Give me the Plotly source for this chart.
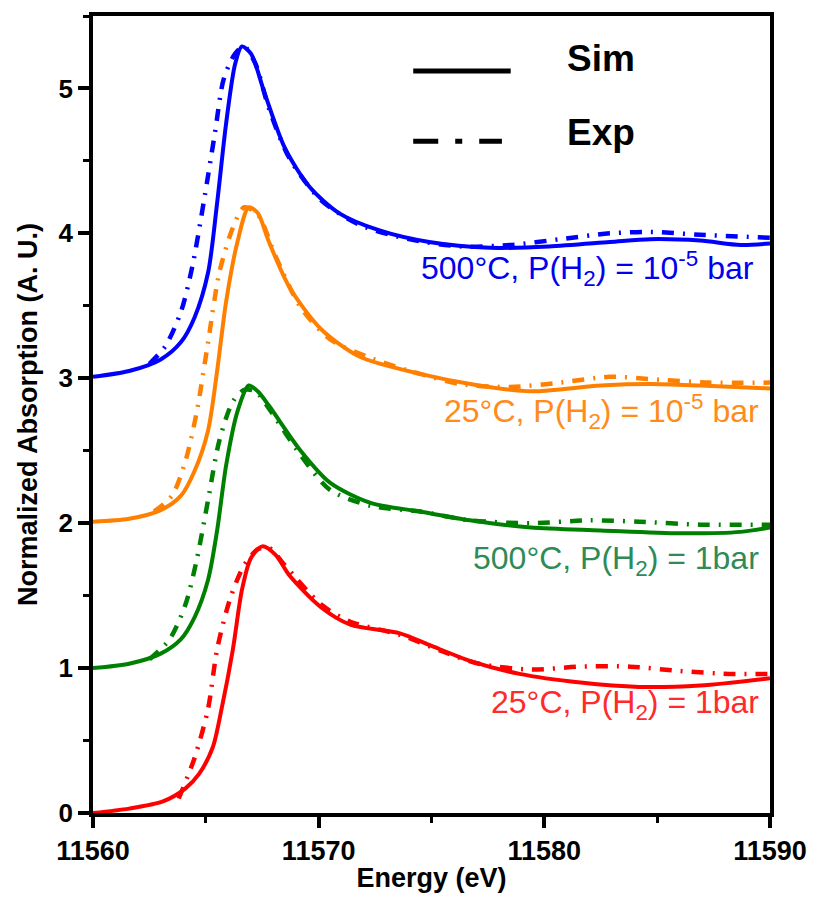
import plotly.graph_objects as go

# ---------------- data ----------------
red_sim_x = [11560.0, 11561.6, 11563.1, 11564.1, 11564.7, 11565.3, 11565.7, 11566.2, 11566.6, 11567.0, 11567.5, 11568.1, 11568.7, 11570.1, 11571.4, 11573.6, 11574.9, 11576.7, 11578.9, 11581.6, 11584.2, 11586.9, 11590.0]
red_sim_y = [0.00, 0.03, 0.08, 0.17, 0.27, 0.45, 0.72, 1.13, 1.54, 1.76, 1.84, 1.78, 1.64, 1.42, 1.30, 1.24, 1.16, 1.05, 0.96, 0.90, 0.87, 0.88, 0.93]
red_exp_x = [11563.8, 11564.5, 11565.1, 11565.5, 11566.1, 11566.7, 11567.3, 11567.8, 11568.5, 11570.1, 11571.4, 11573.6, 11575.4, 11577.1, 11579.4, 11581.6, 11583.8, 11586.0, 11588.2, 11590.0]
red_exp_y = [0.10, 0.38, 0.72, 1.13, 1.49, 1.71, 1.82, 1.83, 1.71, 1.44, 1.32, 1.23, 1.12, 1.03, 0.99, 1.01, 1.01, 0.98, 0.96, 0.96]

green_sim_x = [11560.0, 11561.6, 11563.0, 11563.9, 11564.5, 11565.1, 11565.5, 11565.9, 11566.4, 11566.9, 11567.3, 11567.8, 11569.2, 11570.5, 11572.3, 11574.5, 11576.7, 11579.4, 11582.5, 11586.0, 11588.7, 11590.0]
green_sim_y = [1.00, 1.03, 1.10, 1.20, 1.35, 1.61, 1.95, 2.40, 2.77, 2.95, 2.91, 2.81, 2.50, 2.28, 2.14, 2.08, 2.02, 1.97, 1.95, 1.93, 1.94, 1.97]
green_exp_x = [11562.5, 11563.4, 11564.1, 11564.6, 11565.1, 11565.6, 11566.2, 11566.7, 11567.2, 11567.8, 11569.2, 11570.5, 11572.3, 11574.5, 11576.7, 11579.4, 11582.0, 11584.2, 11586.9, 11590.0]
green_exp_y = [1.06, 1.20, 1.44, 1.75, 2.16, 2.57, 2.84, 2.92, 2.91, 2.79, 2.47, 2.23, 2.12, 2.08, 2.02, 2.00, 2.02, 2.01, 1.99, 1.99]

orange_sim_x = [11560.0, 11561.6, 11563.0, 11563.9, 11564.5, 11565.1, 11565.5, 11565.9, 11566.4, 11566.9, 11567.3, 11567.8, 11568.7, 11570.1, 11571.8, 11574.5, 11577.1, 11579.4, 11582.5, 11584.7, 11586.9, 11590.0]
orange_sim_y = [2.01, 2.03, 2.09, 2.19, 2.36, 2.64, 3.05, 3.53, 3.94, 4.18, 4.14, 3.94, 3.63, 3.34, 3.15, 3.03, 2.95, 2.91, 2.95, 2.96, 2.95, 2.93]
orange_exp_x = [11562.7, 11563.5, 11564.1, 11564.6, 11565.1, 11565.6, 11566.2, 11566.7, 11567.3, 11568.1, 11569.2, 11570.5, 11572.3, 11574.5, 11576.3, 11578.5, 11580.7, 11582.9, 11585.1, 11587.3, 11590.0]
orange_exp_y = [2.08, 2.19, 2.43, 2.77, 3.25, 3.73, 4.04, 4.18, 4.13, 3.84, 3.49, 3.27, 3.14, 3.03, 2.96, 2.94, 2.97, 3.01, 2.99, 2.97, 2.97]

blue_sim_x = [11560.0, 11561.6, 11563.0, 11563.9, 11564.5, 11565.1, 11565.5, 11565.9, 11566.3, 11566.6, 11567.0, 11567.6, 11568.5, 11569.6, 11570.9, 11572.7, 11574.9, 11577.6, 11580.2, 11582.9, 11584.7, 11586.9, 11588.7, 11590.0]
blue_sim_y = [3.01, 3.05, 3.13, 3.25, 3.42, 3.73, 4.21, 4.76, 5.17, 5.29, 5.24, 4.97, 4.59, 4.32, 4.14, 4.02, 3.94, 3.90, 3.91, 3.94, 3.96, 3.95, 3.92, 3.93]
blue_exp_x = [11562.5, 11563.2, 11563.9, 11564.4, 11564.9, 11565.4, 11565.8, 11566.3, 11566.7, 11567.2, 11567.8, 11568.7, 11570.1, 11571.8, 11574.0, 11576.3, 11578.5, 11580.7, 11582.9, 11584.7, 11586.9, 11590.0]
blue_exp_y = [3.10, 3.22, 3.46, 3.77, 4.21, 4.69, 5.07, 5.24, 5.29, 5.17, 4.86, 4.52, 4.23, 4.06, 3.96, 3.91, 3.92, 3.96, 4.00, 4.01, 3.99, 3.97]

labels = ["25°C, P(H<sub>2</sub>) = 1bar",
          "500°C, P(H<sub>2</sub>) = 1bar",
          "25°C, P(H<sub>2</sub>) = 10<sup>-5</sup> bar",
          "500°C, P(H<sub>2</sub>) = 10<sup>-5</sup> bar"]
label_x = [11589.6, 11589.6, 11589.6, 11589.4]
label_y = [0.75, 1.74, 2.77, 3.76]

x_ticks = [11560, 11570, 11580, 11590]
y_ticks = [0, 1, 2, 3, 4, 5]

# ---------------- styles ----------------
line_colors = ["#FF0000", "#008000", "#FF8000", "#0000FF"]
label_colors = ["#FF2A2A", "#2E8B57", "#FF8C1A", "#0000EE"]
FONT = "Liberation Sans, Arial, sans-serif"
EXP_DASH = "12px,9px,2px,9px"

series = [
    (red_sim_x, red_sim_y, red_exp_x, red_exp_y),
    (green_sim_x, green_sim_y, green_exp_x, green_exp_y),
    (orange_sim_x, orange_sim_y, orange_exp_x, orange_exp_y),
    (blue_sim_x, blue_sim_y, blue_exp_x, blue_exp_y),
]

fig = go.Figure()
for (sx, sy, ex, ey), col in zip(series, line_colors):
    fig.add_trace(go.Scatter(x=ex, y=ey, mode="lines", showlegend=False,
                             line=dict(color=col, width=4.5, dash=EXP_DASH,
                                       shape="spline", smoothing=0.8)))
    fig.add_trace(go.Scatter(x=sx, y=sy, mode="lines", showlegend=False,
                             line=dict(color=col, width=4, shape="spline", smoothing=0.8)))

for txt, lx, ly, c in zip(labels, label_x, label_y, label_colors):
    fig.add_annotation(x=lx, y=ly, text=txt, showarrow=False, xanchor="right",
                       yanchor="middle", font=dict(family=FONT, size=32, color=c))

# legend drawn manually
fig.add_shape(type="line", xref="paper", yref="paper", x0=0.473, x1=0.617, y0=0.931, y1=0.931,
              line=dict(color="black", width=5))
fig.add_shape(type="line", xref="paper", yref="paper", x0=0.473, x1=0.604, y0=0.843, y1=0.843,
              line=dict(color="black", width=5, dash="25px,17px,7px,17px"))
fig.add_annotation(xref="paper", yref="paper", x=0.697, y=0.947, text="<b>Sim</b>", showarrow=False,
                   xanchor="left", yanchor="middle", font=dict(family=FONT, size=37, color="black"))
fig.add_annotation(xref="paper", yref="paper", x=0.697, y=0.854, text="<b>Exp</b>", showarrow=False,
                   xanchor="left", yanchor="middle", font=dict(family=FONT, size=37, color="black"))

axis_common = dict(showgrid=False, zeroline=False, showline=True, linecolor="black",
                   linewidth=3.5, mirror=True, ticks="outside", tickwidth=3.5, ticklen=11,
                   tickcolor="black")

fig.update_xaxes(range=[11560, 11590], tickvals=x_ticks, ticktext=[str(v) for v in x_ticks],
                 tickfont=dict(family=FONT, size=27, color="black", weight="bold"),
                 title=dict(text="<b>Energy (eV)</b>", font=dict(family=FONT, size=27, color="black"),
                            standoff=4),
                 minor=dict(dtick=5, ticks="outside", ticklen=6, tickwidth=3, tickcolor="black"),
                 **axis_common)
fig.update_yaxes(range=[0, 5.5], tickvals=y_ticks, ticktext=[str(v) for v in y_ticks],
                 tickfont=dict(family=FONT, size=26, color="black", weight="bold"),
                 title=dict(text="<b>Normalized Absorption (A. U.)</b>",
                            font=dict(family=FONT, size=27, color="black"), standoff=14),
                 minor=dict(dtick=0.5, ticks="outside", ticklen=6, tickwidth=3, tickcolor="black"),
                 **axis_common)

fig.update_layout(width=820, height=901, plot_bgcolor="white", paper_bgcolor="white",
                  margin=dict(l=93, r=50, t=13, b=86), showlegend=False)

fig.write_html("out.html")
